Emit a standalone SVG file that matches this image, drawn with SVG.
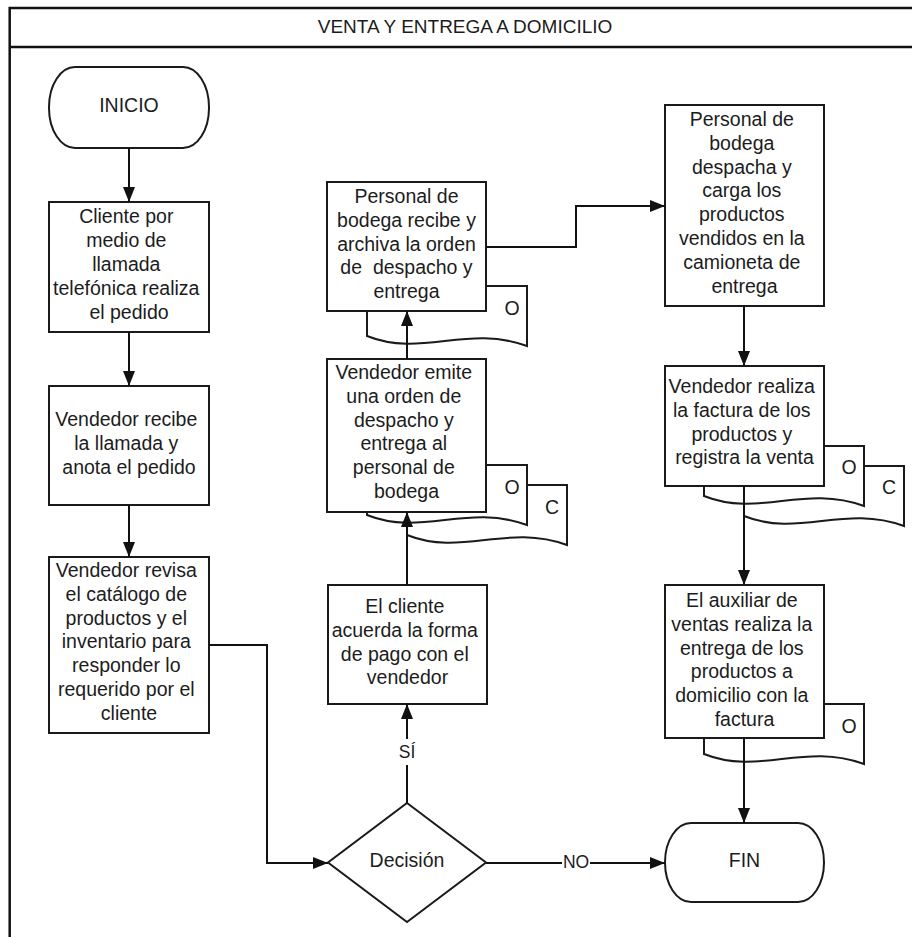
<svg xmlns="http://www.w3.org/2000/svg" width="912" height="937" viewBox="0 0 912 937">
  <style>
    .frame { fill: none; stroke: #111; stroke-width: 2.5; }
    .shape { fill: #fff; stroke: #1a1a1a; stroke-width: 2; }
    .doc { fill: #fff; stroke: #1a1a1a; stroke-width: 2; }
    .conn { fill: none; stroke: #111; stroke-width: 2; }
    text { font-family: "Liberation Sans", Arial, sans-serif; fill: #1c1c1c; }
    .t { font-size: 19.5px; text-anchor: middle; }
    .lbl { font-size: 17.5px; text-anchor: middle; }
    .title { font-size: 19px; text-anchor: middle; }
  </style>
  <defs>
    <marker id="arrow" markerUnits="userSpaceOnUse" markerWidth="16" markerHeight="12" refX="15" refY="6" orient="auto">
      <path d="M0,0 L15,6 L0,12 Z" fill="#111"/>
    </marker>
    <!-- document symbol, 160 wide, wavy bottom edge -->
    <path id="docShape" d="M0,0 H160 V60 C100,38 55,72 0,50 Z"/>
  </defs>

  <rect width="912" height="937" fill="#fff"/>

  <!-- pool frame with title band -->
  <g id="frame">
    <path class="frame" d="M9.7,937 V8 H912 M9.7,47 H912"/>
    <text class="title" x="465" y="33">VENTA Y ENTREGA A DOMICILIO</text>
  </g>

  <g id="inicio">
    <rect class="shape" x="49" y="67" width="160" height="81" rx="26" ry="40"/>
    <text class="t" x="129" y="112">INICIO</text>
  </g>

  <g id="cliente-llama">
    <rect class="shape" x="49" y="202" width="160" height="130"/>
    <text class="t">
      <tspan x="129" y="223.3">Cliente por</tspan>
      <tspan x="129" y="247.1">medio de</tspan>
      <tspan x="129" y="270.9">llamada</tspan>
      <tspan x="129" y="294.7">telefónica realiza</tspan>
      <tspan x="129" y="318.5">el pedido</tspan>
    </text>
  </g>

  <g id="vendedor-recibe">
    <rect class="shape" x="49" y="386" width="160" height="119"/>
    <text class="t">
      <tspan x="129" y="426">Vendedor recibe</tspan>
      <tspan x="129" y="449.8">la llamada y</tspan>
      <tspan x="129" y="473.6">anota el pedido</tspan>
    </text>
  </g>

  <g id="vendedor-revisa">
    <rect class="shape" x="49" y="557" width="160" height="176"/>
    <text class="t">
      <tspan x="129" y="577">Vendedor revisa</tspan>
      <tspan x="129" y="600.8">el catálogo de</tspan>
      <tspan x="129" y="624.6">productos y el</tspan>
      <tspan x="129" y="648.4">inventario para</tspan>
      <tspan x="129" y="672.2">responder lo</tspan>
      <tspan x="129" y="696">requerido por el</tspan>
      <tspan x="129" y="719.8">cliente</tspan>
    </text>
  </g>

  <g id="decision">
    <polygon class="shape" points="407,803 486,862.5 407,922 328,862.5"/>
    <text class="t" x="407" y="867">Decisión</text>
  </g>

  <g id="cliente-acuerda">
    <rect class="shape" x="328" y="585" width="159" height="119"/>
    <text class="t">
      <tspan x="407.5" y="613">El cliente</tspan>
      <tspan x="407.5" y="636.8">acuerda la forma</tspan>
      <tspan x="407.5" y="660.6">de pago con el</tspan>
      <tspan x="407.5" y="684.4">vendedor</tspan>
    </text>
  </g>

  <g id="vendedor-emite">
    <use href="#docShape" class="doc" transform="translate(407,485)"/>
    <text class="t" x="552" y="514">C</text>
    <use href="#docShape" class="doc" transform="translate(367,465)"/>
    <text class="t" x="512" y="494">O</text>
    <rect class="shape" x="327" y="359" width="159" height="153"/>
    <text class="t">
      <tspan x="406.5" y="379">Vendedor emite</tspan>
      <tspan x="406.5" y="402.8">una orden de</tspan>
      <tspan x="406.5" y="426.6">despacho y</tspan>
      <tspan x="406.5" y="450.4">entrega al</tspan>
      <tspan x="406.5" y="474.2">personal de</tspan>
      <tspan x="406.5" y="498">bodega</tspan>
    </text>
  </g>

  <g id="bodega-recibe">
    <use href="#docShape" class="doc" transform="translate(367,286)"/>
    <text class="t" x="512" y="315">O</text>
    <rect class="shape" x="327" y="182" width="159" height="129"/>
    <text class="t" xml:space="preserve"><tspan x="406.5" y="203">Personal de</tspan><tspan x="406.5" y="226.8">bodega recibe y</tspan><tspan x="406.5" y="250.6">archiva la orden</tspan><tspan x="406.5" y="274.4">de  despacho y</tspan><tspan x="406.5" y="298.2">entrega</tspan></text>
  </g>

  <g id="bodega-despacha">
    <rect class="shape" x="665" y="105" width="159" height="201"/>
    <text class="t">
      <tspan x="744.5" y="126">Personal de</tspan>
      <tspan x="744.5" y="149.8">bodega</tspan>
      <tspan x="744.5" y="173.6">despacha y</tspan>
      <tspan x="744.5" y="197.4">carga los</tspan>
      <tspan x="744.5" y="221.2">productos</tspan>
      <tspan x="744.5" y="245">vendidos en la</tspan>
      <tspan x="744.5" y="268.8">camioneta de</tspan>
      <tspan x="744.5" y="292.6">entrega</tspan>
    </text>
  </g>

  <g id="vendedor-factura">
    <use href="#docShape" class="doc" transform="translate(744,466)"/>
    <text class="t" x="889" y="494">C</text>
    <use href="#docShape" class="doc" transform="translate(704,446)"/>
    <text class="t" x="849" y="474">O</text>
    <rect class="shape" x="665" y="366" width="159" height="120"/>
    <text class="t">
      <tspan x="744.5" y="393">Vendedor realiza</tspan>
      <tspan x="744.5" y="416.8">la factura de los</tspan>
      <tspan x="744.5" y="440.6">productos y</tspan>
      <tspan x="744.5" y="464.4">registra la venta</tspan>
    </text>
  </g>

  <g id="auxiliar-entrega">
    <use href="#docShape" class="doc" transform="translate(704,704)"/>
    <text class="t" x="849" y="733">O</text>
    <rect class="shape" x="665" y="585" width="159" height="153"/>
    <text class="t">
      <tspan x="744.5" y="607">El auxiliar de</tspan>
      <tspan x="744.5" y="630.8">ventas realiza la</tspan>
      <tspan x="744.5" y="654.6">entrega de los</tspan>
      <tspan x="744.5" y="678.4">productos a</tspan>
      <tspan x="744.5" y="702.2">domicilio con la</tspan>
      <tspan x="744.5" y="726">factura</tspan>
    </text>
  </g>

  <g id="fin">
    <rect class="shape" x="665" y="823" width="159" height="79" rx="26" ry="39.5"/>
    <text class="t" x="744.5" y="867">FIN</text>
  </g>

  <g id="connectors">
    <path class="conn" marker-end="url(#arrow)" d="M129,148 V202"/>
    <path class="conn" marker-end="url(#arrow)" d="M129,332 V386"/>
    <path class="conn" marker-end="url(#arrow)" d="M129,505 V557"/>
    <path class="conn" marker-end="url(#arrow)" d="M209,645 H267 V863 H328"/>
    <path class="conn" marker-end="url(#arrow)" d="M407,803 V704"/>
    <path class="conn" marker-end="url(#arrow)" d="M407,585 V512"/>
    <path class="conn" marker-end="url(#arrow)" d="M407,359 V311"/>
    <path class="conn" marker-end="url(#arrow)" d="M486,247 H576 V206 H665"/>
    <path class="conn" marker-end="url(#arrow)" d="M744,306 V366"/>
    <path class="conn" marker-end="url(#arrow)" d="M744,486 V585"/>
    <path class="conn" marker-end="url(#arrow)" d="M744,738 V823"/>
    <path class="conn" marker-end="url(#arrow)" d="M486,863 H665"/>
    <rect x="396" y="739" width="22" height="26" fill="#fff"/>
    <text class="lbl" x="407" y="758">SÍ</text>
    <rect x="562" y="852" width="28" height="20" fill="#fff"/>
    <text class="lbl" x="576" y="868">NO</text>
  </g>
</svg>
